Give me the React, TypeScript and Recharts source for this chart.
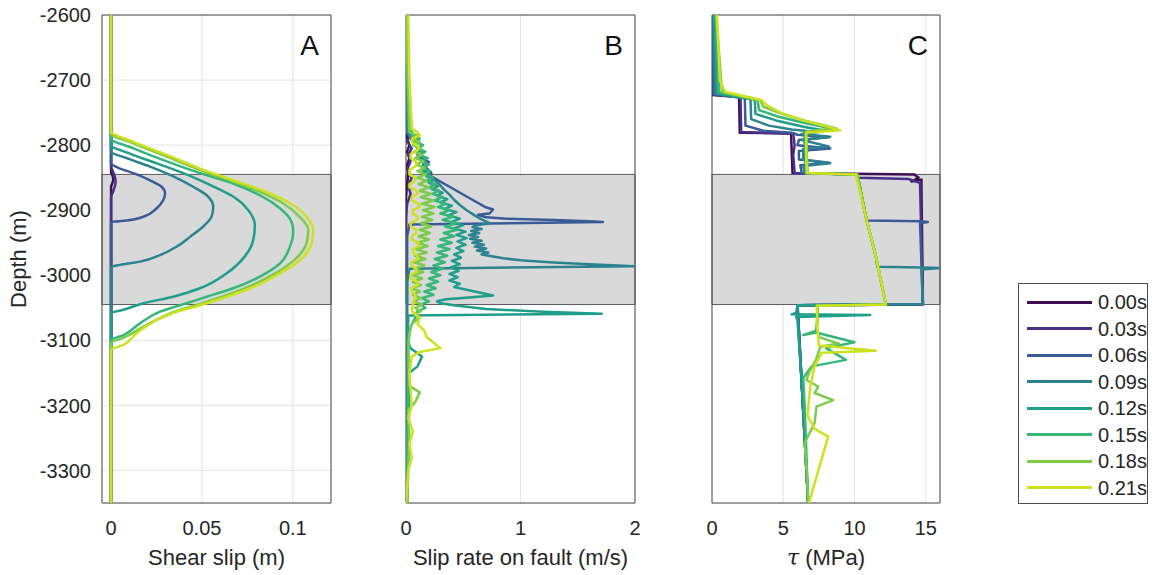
import React from 'react';
import { LineChart, Line, XAxis, YAxis, CartesianGrid, ReferenceArea, Label } from 'recharts';

const TIMES = ['0.00s', '0.03s', '0.06s', '0.09s', '0.12s', '0.15s', '0.18s', '0.21s'];
const COLORS = ['#3f0f55', '#48308a', '#3a5a98', '#2b8390', '#1f9e89', '#35b779', '#7ccb4a', '#cde11d'];

const DEPTH_DOMAIN = [-3350, -2600];
const DEPTH_TICKS = [-3300, -3200, -3100, -3000, -2900, -2800, -2700, -2600];
const BAND = [-3045, -2845];

const SLIP_DOMAIN = [-0.005, 0.121];
const SLIP_TICKS = [0, 0.05, 0.1];
const RATE_DOMAIN = [0, 2];
const RATE_TICKS = [0, 1, 2];
const TAU_DOMAIN = [0, 16];
const TAU_TICKS = [0, 5, 10, 15];

// A: shear slip (m) vs depth, [depth, slip]
const slipA000 = [[-2600, 0], [-2842, 0], [-2847, 0.0008], [-2853, 0.0012], [-2859, 0.0006], [-2864, 0], [-3350, 0]];
const slipA003 = [[-2600, 0], [-2833, 0], [-2840, 0.001], [-2848, 0.002], [-2856, 0.0025], [-2864, 0.002], [-2872, 0.001], [-2880, 0], [-3350, 0]];
const slipA006 = [[-2600, 0], [-2828, 0], [-2836, 0.005], [-2843, 0.0123], [-2854, 0.0214], [-2864, 0.0278], [-2874, 0.0297], [-2884, 0.0288], [-2897, 0.0251], [-2910, 0.0178], [-2916, 0.0086], [-2918, 0], [-3350, 0]];
const slipA009 = [[-2600, 0], [-2810, 0], [-2820, 0.0086], [-2833, 0.0214], [-2848, 0.0342], [-2864, 0.0452], [-2877, 0.0526], [-2895, 0.0562], [-2910, 0.0553], [-2925, 0.0507], [-2941, 0.0434], [-2956, 0.0361], [-2969, 0.0269], [-2979, 0.0159], [-2984, 0.0049], [-2987, 0], [-3350, 0]];
const slipA012 = [[-2600, 0], [-2800, 0], [-2813, 0.0104], [-2828, 0.0251], [-2843, 0.0397], [-2861, 0.0544], [-2879, 0.0672], [-2900, 0.0755], [-2923, 0.0791], [-2946, 0.0782], [-2971, 0.0736], [-2997, 0.0636], [-3020, 0.0489], [-3033, 0.0342], [-3043, 0.0178], [-3053, 0.0068], [-3058, 0], [-3350, 0]];
const slipA015 = [[-2600, 0], [-2790, 0], [-2805, 0.0123], [-2825, 0.0306], [-2843, 0.0489], [-2859, 0.0672], [-2877, 0.0819], [-2897, 0.0929], [-2918, 0.0993], [-2933, 0.1002], [-2956, 0.0984], [-2982, 0.0929], [-3002, 0.0819], [-3020, 0.0672], [-3033, 0.0526], [-3043, 0.0416], [-3056, 0.0269], [-3074, 0.0159], [-3092, 0.0068], [-3100, 0], [-3350, 0]];
const slipA018 = [[-2600, 0], [-2782, 0], [-2797, 0.012], [-2817, 0.03], [-2837, 0.048], [-2855, 0.066], [-2873, 0.083], [-2890, 0.095], [-2911, 0.104], [-2930, 0.1085], [-2951, 0.1075], [-2976, 0.101], [-2996, 0.091], [-3016, 0.077], [-3031, 0.063], [-3044, 0.049], [-3055, 0.036], [-3067, 0.026], [-3082, 0.016], [-3096, 0.007], [-3104, 0], [-3350, 0]];
const slipA021 = [[-2600, 0], [-2779, 0], [-2795, 0.0123], [-2815, 0.0306], [-2836, 0.0489], [-2854, 0.0672], [-2872, 0.0855], [-2889, 0.0984], [-2910, 0.1075], [-2930, 0.1112], [-2951, 0.1103], [-2977, 0.1038], [-2997, 0.0929], [-3018, 0.0782], [-3033, 0.0636], [-3046, 0.0489], [-3056, 0.0361], [-3069, 0.0251], [-3089, 0.0141], [-3107, 0.0068], [-3115, 0], [-3350, 0]];

// B: slip rate on fault (m/s) vs depth
const rateB000 = [[-2600, 0], [-2780, 0], [-2790, 0.01], [-2800, 0.03], [-2810, 0.01], [-2820, 0.03], [-2830, 0.01], [-2845, 0.02], [-2860, 0.01], [-2880, 0], [-3350, 0]];
const rateB003 = [[-2600, 0], [-2775, 0], [-2785, 0.03], [-2795, 0.01], [-2805, 0.05], [-2815, 0.02], [-2825, 0.04], [-2838, 0.01], [-2850, 0.05], [-2862, 0.02], [-2875, 0.04], [-2890, 0.01], [-2910, 0], [-3350, 0]];
const rateB006 = [[-2600, 0], [-2770, 0.005], [-2785, 0.03], [-2800, 0.08], [-2810, 0.15], [-2818, 0.12], [-2826, 0.2], [-2834, 0.17], [-2842, 0.22], [-2848, 0.22], [-2864, 0.38], [-2882, 0.56], [-2895, 0.69], [-2899, 0.76], [-2905, 0.73], [-2907, 0.63], [-2911, 0.7], [-2913, 0.88], [-2915, 1.3], [-2917, 1.6], [-2918, 1.72], [-2922, 0.03], [-2940, 0.01], [-3350, 0.005]];
const rateB009 = [[-2600, 0], [-2780, 0.01], [-2795, 0.06], [-2805, 0.12], [-2815, 0.1], [-2825, 0.16], [-2835, 0.14], [-2845, 0.2], [-2852, 0.24], [-2860, 0.29], [-2868, 0.33], [-2876, 0.38], [-2884, 0.42], [-2892, 0.47], [-2900, 0.53], [-2908, 0.6], [-2914, 0.66], [-2920, 0.73], [-2923, 0.62], [-2926, 0.58], [-2929, 0.66], [-2932, 0.57], [-2935, 0.64], [-2938, 0.55], [-2941, 0.63], [-2944, 0.56], [-2947, 0.66], [-2950, 0.58], [-2953, 0.68], [-2956, 0.6], [-2959, 0.7], [-2962, 0.62], [-2965, 0.72], [-2968, 0.66], [-2971, 0.76], [-2974, 0.85], [-2977, 1.0], [-2980, 1.25], [-2983, 1.6], [-2986, 2.0], [-2990, 0.03], [-3010, 0.01], [-3350, 0.005]];
const rateB012 = [[-2600, 0], [-2775, 0.02], [-2790, 0.1], [-2800, 0.07], [-2810, 0.14], [-2820, 0.11], [-2830, 0.18], [-2840, 0.15], [-2848, 0.18], [-2853, 0.24], [-2858, 0.2], [-2863, 0.28], [-2868, 0.23], [-2873, 0.32], [-2878, 0.27], [-2883, 0.36], [-2888, 0.3], [-2893, 0.4], [-2898, 0.34], [-2903, 0.44], [-2908, 0.37], [-2913, 0.47], [-2918, 0.4], [-2923, 0.5], [-2928, 0.42], [-2933, 0.52], [-2938, 0.44], [-2943, 0.53], [-2948, 0.45], [-2953, 0.52], [-2958, 0.44], [-2963, 0.5], [-2968, 0.42], [-2973, 0.48], [-2978, 0.4], [-2983, 0.47], [-2988, 0.39], [-2993, 0.46], [-2998, 0.38], [-3003, 0.45], [-3008, 0.38], [-3013, 0.47], [-3018, 0.42], [-3023, 0.55], [-3028, 0.68], [-3031, 0.76], [-3034, 0.55], [-3037, 0.35], [-3040, 0.27], [-3043, 0.3], [-3047, 0.45], [-3052, 0.7], [-3056, 1.2], [-3059, 1.71], [-3062, 0.02], [-3070, 0.02], [-3100, 0.01], [-3112, 0.04], [-3125, 0.14], [-3140, 0.1], [-3150, 0.03], [-3160, 0.02], [-3180, 0.03], [-3350, 0.01]];
const rateB015 = [[-2600, 0], [-2785, 0.05], [-2790, 0.12], [-2795, 0.08], [-2800, 0.15], [-2805, 0.1], [-2810, 0.17], [-2815, 0.12], [-2820, 0.19], [-2825, 0.13], [-2830, 0.2], [-2835, 0.14], [-2840, 0.21], [-2845, 0.16], [-2850, 0.23], [-2855, 0.18], [-2860, 0.26], [-2865, 0.2], [-2870, 0.29], [-2875, 0.23], [-2880, 0.32], [-2885, 0.25], [-2890, 0.35], [-2895, 0.28], [-2900, 0.38], [-2905, 0.3], [-2910, 0.41], [-2915, 0.32], [-2920, 0.44], [-2925, 0.34], [-2930, 0.45], [-2935, 0.33], [-2940, 0.42], [-2945, 0.3], [-2950, 0.4], [-2955, 0.28], [-2960, 0.38], [-2965, 0.27], [-2970, 0.36], [-2975, 0.25], [-2980, 0.34], [-2985, 0.24], [-2990, 0.32], [-2995, 0.22], [-3000, 0.3], [-3005, 0.2], [-3010, 0.28], [-3015, 0.18], [-3020, 0.26], [-3025, 0.16], [-3030, 0.24], [-3035, 0.14], [-3040, 0.2], [-3045, 0.13], [-3050, 0.17], [-3055, 0.1], [-3065, 0.08], [-3080, 0.04], [-3100, 0.02], [-3350, 0.01]];
const rateB018 = [[-2600, 0], [-2780, 0.03], [-2785, 0.1], [-2790, 0.05], [-2795, 0.12], [-2800, 0.06], [-2805, 0.13], [-2810, 0.07], [-2815, 0.14], [-2820, 0.08], [-2825, 0.15], [-2830, 0.09], [-2835, 0.16], [-2840, 0.1], [-2845, 0.17], [-2850, 0.1], [-2855, 0.18], [-2860, 0.11], [-2865, 0.2], [-2870, 0.12], [-2875, 0.22], [-2880, 0.13], [-2885, 0.24], [-2890, 0.14], [-2895, 0.25], [-2900, 0.15], [-2905, 0.24], [-2910, 0.14], [-2915, 0.23], [-2920, 0.13], [-2925, 0.22], [-2930, 0.12], [-2935, 0.21], [-2940, 0.11], [-2945, 0.2], [-2950, 0.1], [-2955, 0.19], [-2960, 0.09], [-2965, 0.18], [-2970, 0.08], [-2975, 0.17], [-2980, 0.07], [-2985, 0.16], [-2990, 0.07], [-2995, 0.15], [-3000, 0.06], [-3005, 0.14], [-3010, 0.06], [-3015, 0.13], [-3020, 0.05], [-3025, 0.12], [-3030, 0.06], [-3035, 0.13], [-3040, 0.07], [-3045, 0.14], [-3050, 0.08], [-3055, 0.13], [-3060, 0.07], [-3065, 0.12], [-3075, 0.05], [-3090, 0.03], [-3110, 0.02], [-3170, 0.03], [-3180, 0.12], [-3195, 0.08], [-3207, 0.02], [-3250, 0.03], [-3350, 0.01]];
const rateB021 = [[-2600, 0.02], [-2700, 0.03], [-2775, 0.05], [-2780, 0.1], [-2785, 0.12], [-2790, 0.06], [-2795, 0.05], [-2802, 0.11], [-2808, 0.1], [-2814, 0.04], [-2820, 0.04], [-2826, 0.09], [-2832, 0.09], [-2838, 0.03], [-2845, 0.03], [-2850, 0.08], [-2855, 0.08], [-2860, 0.03], [-2865, 0.03], [-2870, 0.09], [-2875, 0.1], [-2880, 0.05], [-2885, 0.05], [-2890, 0.11], [-2895, 0.12], [-2900, 0.06], [-2905, 0.06], [-2910, 0.1], [-2915, 0.1], [-2920, 0.04], [-2925, 0.04], [-2930, 0.09], [-2935, 0.09], [-2940, 0.05], [-2945, 0.05], [-2950, 0.11], [-2955, 0.11], [-2960, 0.06], [-2965, 0.06], [-2970, 0.1], [-2975, 0.1], [-2980, 0.05], [-2985, 0.05], [-2990, 0.09], [-2995, 0.09], [-3000, 0.04], [-3005, 0.04], [-3010, 0.1], [-3015, 0.1], [-3020, 0.05], [-3025, 0.05], [-3030, 0.08], [-3035, 0.08], [-3045, 0.06], [-3055, 0.05], [-3065, 0.12], [-3075, 0.1], [-3085, 0.16], [-3095, 0.18], [-3105, 0.25], [-3112, 0.3], [-3118, 0.12], [-3125, 0.05], [-3150, 0.03], [-3200, 0.05], [-3220, 0.02], [-3240, 0.06], [-3260, 0.03], [-3280, 0.05], [-3300, 0.02], [-3350, 0]];

// C: shear stress tau (MPa) vs depth
const tauC000 = [[-2600, 0], [-2723, 0.05], [-2726, 1.9], [-2781, 1.95], [-2782, 5.55], [-2843, 5.65], [-2845, 14.2], [-2850, 14.5], [-2856, 14.0], [-2853, 14.7], [-2870, 14.7], [-3044, 14.8], [-3046, 6.0], [-3350, 6.75]];
const tauC003 = [[-2600, 0.02], [-2722, 0.08], [-2726, 2.0], [-2780, 2.05], [-2782, 5.7], [-2800, 5.8], [-2815, 5.7], [-2843, 5.8], [-2845, 10.2], [-2850, 10.25], [-2852, 13.8], [-2856, 14.3], [-2858, 14.6], [-3045, 14.8], [-3046, 6.0], [-3350, 6.75]];
const tauC006 = [[-2600, 0.03], [-2722, 0.12], [-2728, 2.3], [-2770, 2.35], [-2778, 3.6], [-2781, 5.6], [-2784, 6.0], [-2788, 8.2], [-2792, 6.1], [-2800, 6.0], [-2805, 8.3], [-2809, 6.1], [-2822, 6.1], [-2827, 8.2], [-2831, 6.2], [-2843, 6.3], [-2845, 10.2], [-2880, 10.5], [-2916, 10.85], [-2917, 14.6], [-2918, 15.15], [-2920, 14.6], [-3045, 14.8], [-3046, 6.0], [-3350, 6.75]];
const tauC009 = [[-2600, 0.1], [-2721, 0.22], [-2729, 2.7], [-2760, 2.75], [-2770, 4.0], [-2776, 5.6], [-2780, 7.5], [-2783, 6.3], [-2787, 8.3], [-2792, 6.3], [-2802, 8.2], [-2806, 6.4], [-2822, 6.4], [-2828, 8.3], [-2832, 6.4], [-2843, 6.5], [-2845, 10.2], [-2915, 10.85], [-2971, 11.5], [-2987, 11.6], [-2988, 14.7], [-2989, 16], [-2991, 14.7], [-3044, 14.8], [-3046, 6.0], [-3350, 6.75]];
const tauC012 = [[-2600, 0.15], [-2720, 0.35], [-2730, 3.0], [-2752, 3.05], [-2762, 4.5], [-2772, 6.5], [-2778, 8.0], [-2781, 6.5], [-2800, 6.5], [-2820, 6.55], [-2843, 6.6], [-2845, 10.2], [-2915, 10.85], [-2971, 11.5], [-3045, 12.2], [-3046, 6.0], [-3058, 5.9], [-3060, 5.6], [-3061, 11.1], [-3064, 5.9], [-3070, 6.0], [-3200, 6.4], [-3350, 6.75]];
const tauC015 = [[-2600, 0.25], [-2719, 0.5], [-2731, 3.2], [-2746, 3.3], [-2756, 4.6], [-2766, 6.5], [-2775, 8.5], [-2780, 6.6], [-2810, 6.6], [-2843, 6.7], [-2845, 10.2], [-2915, 10.85], [-2971, 11.5], [-3045, 12.2], [-3047, 7.4], [-3070, 7.4], [-3085, 7.3], [-3092, 6.4], [-3088, 7.3], [-3103, 10.0], [-3112, 8.0], [-3130, 9.4], [-3140, 7.0], [-3158, 6.4], [-3200, 6.5], [-3260, 6.6], [-3350, 6.75]];
const tauC018 = [[-2600, 0.3], [-2718, 0.7], [-2731, 3.4], [-2741, 3.6], [-2751, 4.8], [-2763, 6.6], [-2774, 8.7], [-2779, 6.6], [-2810, 6.65], [-2843, 6.7], [-2845, 10.2], [-2915, 10.85], [-2971, 11.5], [-3045, 12.2], [-3047, 7.4], [-3080, 7.35], [-3095, 7.5], [-3105, 8.9], [-3110, 7.6], [-3130, 7.3], [-3150, 6.8], [-3161, 6.63], [-3171, 7.45], [-3181, 7.2], [-3192, 8.5], [-3202, 7.33], [-3227, 7.2], [-3258, 6.5], [-3300, 6.65], [-3350, 6.75]];
const tauC021 = [[-2600, 0.35], [-2700, 0.55], [-2718, 0.9], [-2731, 3.5], [-2738, 3.8], [-2750, 4.8], [-2762, 6.4], [-2772, 8.2], [-2777, 9.0], [-2781, 6.6], [-2810, 6.6], [-2843, 6.65], [-2845, 10.1], [-2915, 10.85], [-2971, 11.5], [-3045, 12.2], [-3047, 7.35], [-3080, 7.4], [-3108, 7.5], [-3116, 11.5], [-3119, 7.7], [-3140, 7.2], [-3171, 6.9], [-3216, 6.7], [-3236, 7.2], [-3248, 8.15], [-3350, 6.8]];

const SLIP_SERIES = [slipA000, slipA003, slipA006, slipA009, slipA012, slipA015, slipA018, slipA021];
const RATE_SERIES = [rateB000, rateB003, rateB006, rateB009, rateB012, rateB015, rateB018, rateB021];
const TAU_SERIES = [tauC000, tauC003, tauC006, tauC009, tauC012, tauC015, tauC018, tauC021];

const toRows = (pts: number[][]) => pts.map(([d, v]) => ({ d, v }));

const TEXT = '#262626';
const FONT = '"Liberation Sans", Arial, Helvetica, sans-serif';

interface PanelProps {
  left: number;
  width: number;
  marginLeft: number;
  marginRight: number;
  showDepth: boolean;
  xDomain: number[];
  xTicks: number[];
  series: number[][][];
  letter: string;
  xTitle: React.ReactNode;
  curve?: 'linear' | 'monotone';
}

const Panel: React.FC<PanelProps> = ({ left, width, marginLeft, marginRight, showDepth, xDomain, xTicks, series, letter, xTitle, curve = 'linear' }) => (
  <div style={{ position: 'absolute', left, top: 0 }}>
    <LineChart
      width={width}
      height={575}
      layout="vertical"
      margin={{ top: 15, right: marginRight, bottom: 42, left: marginLeft }}
    >
      <CartesianGrid stroke="#e4e4e4" />
      <XAxis
        type="number"
        domain={xDomain}
        ticks={xTicks}
        interval={0}
        allowDataOverflow
        axisLine={false}
        tickLine={false}
        height={30}
        tickMargin={12}
        tick={{ fill: TEXT, fontSize: 20 }}
      >
        <Label
          content={({ viewBox }: any) => (
            <text
              x={viewBox.x + viewBox.width / 2}
              y={viewBox.y + viewBox.height + 32}
              textAnchor="middle"
              fontSize={22}
              fill={TEXT}
            >
              {xTitle}
            </text>
          )}
        />
      </XAxis>
      <YAxis
        type="number"
        dataKey="d"
        domain={DEPTH_DOMAIN}
        ticks={DEPTH_TICKS}
        interval={0}
        reversed
        allowDataOverflow
        axisLine={false}
        tickLine={false}
        width={showDepth ? 82 : 0}
        tickMargin={5}
        tick={showDepth ? { fill: TEXT, fontSize: 20 } : false}
      >
        {showDepth && (
          <Label
            content={({ viewBox }: any) => {
              const cx = viewBox.x - 2;
              const cy = viewBox.y + viewBox.height / 2;
              return (
                <text
                  x={cx}
                  y={cy}
                  transform={`rotate(-90, ${cx}, ${cy})`}
                  textAnchor="middle"
                  dominantBaseline="central"
                  fontSize={22}
                  fill={TEXT}
                >
                  Depth (m)
                </text>
              );
            }}
          />
        )}
      </YAxis>
      {/* reservoir band */}
      <ReferenceArea y1={BAND[0]} y2={BAND[1]} fill="#d9d9d9" fillOpacity={1} stroke="#5a5a5a" strokeWidth={1} />
      {series.map((pts, i) => (
        <Line
          key={TIMES[i]}
          type={curve}
          data={toRows(pts)}
          dataKey="v"
          stroke={COLORS[i]}
          strokeWidth={2.5}
          strokeLinejoin="round"
          dot={false}
          activeDot={false}
          isAnimationActive={false}
        />
      ))}
      {/* axes box + panel letter */}
      <ReferenceArea
        x1={xDomain[0]}
        x2={xDomain[1]}
        y1={DEPTH_DOMAIN[0]}
        y2={DEPTH_DOMAIN[1]}
        fill="none"
        stroke="#4d4d4d"
        strokeWidth={1}
        label={({ viewBox }: any) => (
          <text x={viewBox.x + viewBox.width - 12} y={viewBox.y + 40} textAnchor="end" fontSize={28} fill="#111">
            {letter}
          </text>
        )}
      />
    </LineChart>
  </div>
);

const ChartLegend = () => (
  <div
    style={{
      position: 'absolute',
      left: 1018,
      top: 283,
      width: 130,
      height: 221,
      border: '1px solid #4d4d4d',
      boxSizing: 'border-box',
      paddingTop: 5,
      background: '#fff',
    }}
  >
    {TIMES.map((t, i) => (
      <div key={t} style={{ display: 'flex', alignItems: 'center', height: 26.5 }}>
        <div style={{ marginLeft: 8, width: 65, height: 3, background: COLORS[i] }} />
        <div style={{ marginLeft: 6, fontSize: 20, color: TEXT, lineHeight: '20px' }}>{t}</div>
      </div>
    ))}
  </div>
);

export default function App() {
  return (
    <div style={{ position: 'absolute', left: 0, top: 0, width: 1152, height: 575, background: '#fff', fontFamily: FONT }}>
      <Panel
        left={0}
        width={340}
        marginLeft={20}
        marginRight={9}
        showDepth
        xDomain={SLIP_DOMAIN}
        xTicks={SLIP_TICKS}
        series={SLIP_SERIES}
        letter="A"
        xTitle="Shear slip (m)"
        curve="monotone"
      />
      <Panel
        left={380}
        width={270}
        marginLeft={26}
        marginRight={15}
        showDepth={false}
        xDomain={RATE_DOMAIN}
        xTicks={RATE_TICKS}
        series={RATE_SERIES}
        letter="B"
        xTitle="Slip rate on fault (m/s)"
      />
      <Panel
        left={680}
        width={280}
        marginLeft={32}
        marginRight={20}
        showDepth={false}
        xDomain={TAU_DOMAIN}
        xTicks={TAU_TICKS}
        series={TAU_SERIES}
        letter="C"
        xTitle={
          <>
            <tspan fontStyle="italic" fontFamily="'DejaVu Serif', serif">τ</tspan>
            <tspan> (MPa)</tspan>
          </>
        }
      />
      <ChartLegend />
    </div>
  );
}
